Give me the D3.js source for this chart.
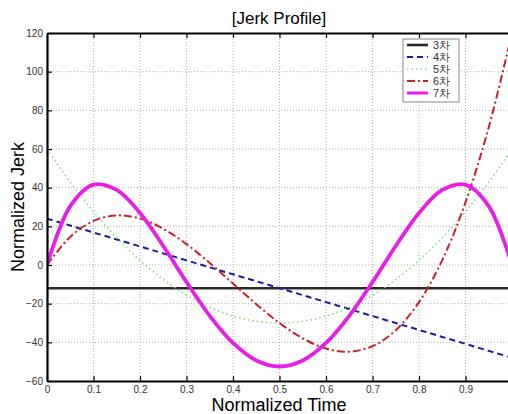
<!DOCTYPE html>
<html>
<head>
<meta charset="utf-8">
<script src="https://cdn.jsdelivr.net/npm/d3@7"></script>
<style>
  body { margin: 0; background: #fff; }
  svg { display: block; font-family: "Liberation Sans", Arial, sans-serif; }
  .grid line { stroke: #b0b0b0; stroke-dasharray: 1,2; }
  .tick text { fill: #333; font-size: 10px; }
</style>
</head>
<body>
<svg width="508" height="414"></svg>
<script>
//Normalized time samples
let times = [0, 0.05, 0.1, 0.15, 0.2, 0.25, 0.3, 0.35, 0.4, 0.45, 0.5,
             0.55, 0.6, 0.65, 0.7, 0.75, 0.8, 0.85, 0.9, 0.95, 1];
//Jerk values of each polynomial order
let jerk3 = [-12, -12, -12, -12, -12, -12, -12, -12, -12, -12, -12,
             -12, -12, -12, -12, -12, -12, -12, -12, -12, -12];
let jerk4 = [24, 20.4, 16.8, 13.2, 9.6, 6, 2.4, -1.2, -4.8, -8.4, -12,
             -15.6, -19.2, -22.8, -26.4, -30, -33.6, -37.2, -40.8, -44.4, -48];
let jerk5 = [60, 42.9, 27.6, 14.1, 2.4, -7.5, -15.6, -21.9, -26.4, -29.1, -30,
             -29.1, -26.4, -21.9, -15.6, -7.5, 2.4, 14.1, 27.6, 42.9, 60];
let jerk6 = [0, 14.55, 22.8, 25.65, 24, 18.75, 10.8, 1.05, -9.6, -20.25, -30,
             -37.95, -43.2, -44.85, -42, -33.75, -19.2, 2.55, 32.4, 71.25, 120];
let jerk7 = [0, 30.42, 41.58, 38.82, 26.88, 9.84, -8.82, -26.28, -40.32, -49.38, -52.5,
             -49.38, -40.32, -26.28, -8.82, 9.84, 26.88, 38.82, 41.58, 30.42, 0];
let seriesNames = ["3차", "4차", "5차", "6차", "7차"];
let xTicks = [0, 0.1, 0.2, 0.3, 0.4, 0.5, 0.6, 0.7, 0.8, 0.9];
let yTicks = [-60, -40, -20, 0, 20, 40, 60, 80, 100, 120];

let allSeries = [jerk3, jerk4, jerk5, jerk6, jerk7];
//Line styles per order
let styles = [
  {color: "#2a2a2a", width: 2.6, dash: null},
  {color: "#1c1c9c", width: 2, dash: "6,4"},
  {color: "#7fdc7f", width: 1.6, dash: "1.5,3"},
  {color: "#c8202c", width: 2, dash: "8,3,2,3"},
  {color: "#e81ee8", width: 3.8, dash: null}
];

let svg = d3.select("svg"),
    margin = {top: 33, left: 47},
    plotRight = 512, //the right part of the plot is cut by the picture
    plotBottom = 381;

let x = d3.scaleLinear().domain([0, 1]).range([margin.left, plotRight]);
let y = d3.scaleLinear().domain([-60, 120]).range([plotBottom, margin.top]);

let defs = svg.append("defs");
defs.append("clipPath").attr("id", "plotclip")
    .append("rect")
    .attr("x", margin.left).attr("y", margin.top)
    .attr("width", plotRight - margin.left).attr("height", plotBottom - margin.top);

//Dotted grid
let grid = svg.append("g").attr("class", "grid");
grid.selectAll(".gx").data(xTicks.filter(d => d > 0)).enter().append("line")
    .attr("x1", d => x(d)).attr("x2", d => x(d))
    .attr("y1", margin.top).attr("y2", plotBottom);
grid.selectAll(".gy").data(yTicks.filter(d => d > -60 && d < 120)).enter().append("line")
    .attr("x1", margin.left).attr("x2", plotRight)
    .attr("y1", d => y(d)).attr("y2", d => y(d));

//Curves
let line = d3.line()
    .x((d, i) => x(times[i]))
    .y(d => y(d))
    .curve(d3.curveCatmullRom.alpha(0.5));

let curves = svg.append("g").attr("clip-path", "url(#plotclip)");
allSeries.forEach(function(s, i){
  curves.append("path")
    .datum(s)
    .attr("fill", "none")
    .attr("stroke", styles[i].color)
    .attr("stroke-width", styles[i].width)
    .attr("stroke-dasharray", styles[i].dash)
    .attr("d", line);
});

//Axes with inward ticks
let xAxis = d3.axisBottom(x).tickValues(xTicks).tickSizeInner(-5).tickSizeOuter(0)
    .tickPadding(5).tickFormat(d3.format("~g"));
let xAxisTop = d3.axisTop(x).tickValues(xTicks).tickSizeInner(-5).tickSizeOuter(0)
    .tickFormat("");
let yAxis = d3.axisLeft(y).tickValues(yTicks).tickSizeInner(-5).tickSizeOuter(0)
    .tickPadding(4);

svg.append("g").attr("transform", "translate(0," + plotBottom + ")").call(xAxis);
svg.append("g").attr("transform", "translate(0," + margin.top + ")").call(xAxisTop);
svg.append("g").attr("transform", "translate(" + margin.left + ",0)").call(yAxis);
svg.selectAll(".domain").attr("stroke", "#000").attr("stroke-width", 2.2);
svg.selectAll(".tick line").attr("stroke", "#000").attr("stroke-width", 1.2);

//Legend
let legend = svg.append("g").attr("transform", "translate(403,39)");
legend.append("rect")
    .attr("width", 56).attr("height", 63)
    .attr("fill", "#fff").attr("stroke", "#888").attr("stroke-width", 1);
seriesNames.forEach(function(name, i){
  let ly = 6 + i * 12;
  legend.append("line")
    .attr("x1", 4).attr("x2", 25).attr("y1", ly).attr("y2", ly)
    .attr("stroke", styles[i].color)
    .attr("stroke-width", Math.min(styles[i].width, 3))
    .attr("stroke-dasharray", styles[i].dash);
  legend.append("text")
    .attr("x", 30).attr("y", ly + 4)
    .attr("font-size", "11px").attr("fill", "#333")
    .text(name);
});

//Titles
svg.append("text")
    .attr("x", 279).attr("y", 24)
    .attr("text-anchor", "middle").attr("font-size", "17px")
    .text("[Jerk Profile]");
svg.append("text")
    .attr("x", 279).attr("y", 411)
    .attr("text-anchor", "middle").attr("font-size", "18px")
    .text("Normalized Time");
svg.append("text")
    .attr("transform", "translate(24,207) rotate(-90)")
    .attr("text-anchor", "middle").attr("font-size", "18px")
    .text("Normalized Jerk");
</script>
</body>
</html>
